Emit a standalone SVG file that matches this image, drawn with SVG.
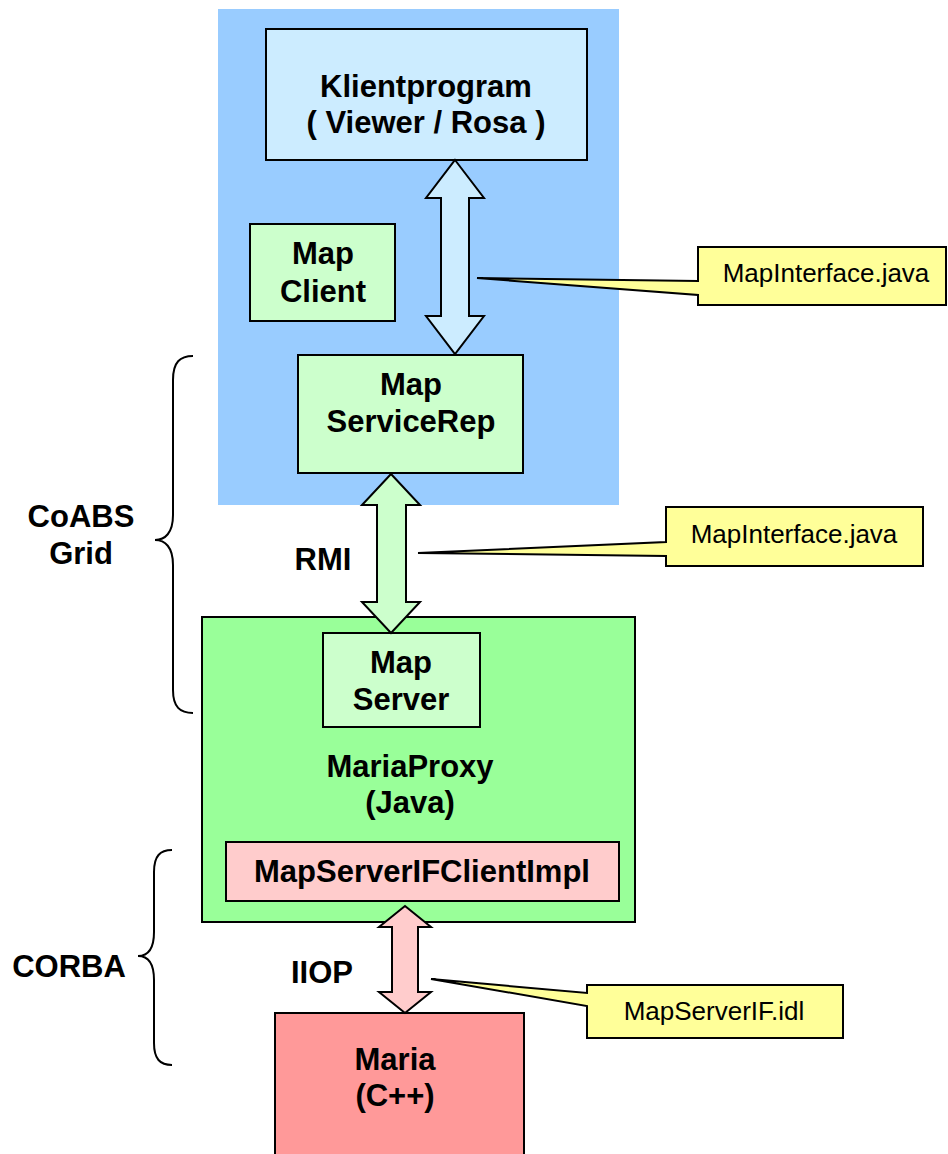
<svg xmlns="http://www.w3.org/2000/svg" width="948" height="1154" viewBox="0 0 948 1154">
  <style>
    .box { stroke: #000; stroke-width: 2; }
    .lbl { font-family: "Liberation Sans", Arial, sans-serif; font-weight: bold; font-size: 31px; fill: #000; text-anchor: middle; }
    .note { font-family: "Liberation Sans", Arial, sans-serif; font-size: 26px; fill: #000; text-anchor: middle; }
    .brace { fill: none; stroke: #000; stroke-width: 2; }
    .callout { fill: #FFFF99; stroke: #000; stroke-width: 2; stroke-linejoin: miter; }
    .arrow { stroke: #000; stroke-width: 2; stroke-linejoin: miter; }
  </style>
  <rect width="948" height="1154" fill="#FFFFFF"/>

  <!-- client-side region -->
  <g id="client-area">
    <rect x="218" y="9" width="401" height="496" fill="#99CCFF"/>
  </g>

  <g id="klientprogram">
    <rect class="box" x="266" y="29" width="321" height="131" fill="#CCECFF"/>
    <text class="lbl" x="426" y="97">Klientprogram</text>
    <text class="lbl" x="426" y="133">( Viewer / Rosa )</text>
  </g>

  <g id="map-client">
    <rect class="box" x="250" y="224" width="145" height="97" fill="#CCFFCC"/>
    <text class="lbl" x="323" y="264">Map</text>
    <text class="lbl" x="323" y="302">Client</text>
  </g>

  <g id="map-servicerep">
    <rect class="box" x="298" y="355" width="225" height="118" fill="#CCFFCC"/>
    <text class="lbl" x="411" y="395">Map</text>
    <text class="lbl" x="411" y="432">ServiceRep</text>
  </g>

  <g id="maria-proxy">
    <rect class="box" x="202" y="617" width="433" height="305" fill="#99FF99"/>
    <text class="lbl" x="410" y="777">MariaProxy</text>
    <text class="lbl" x="410" y="813">(Java)</text>
  </g>

  <g id="map-server">
    <rect class="box" x="323" y="633" width="157" height="94" fill="#CCFFCC"/>
    <text class="lbl" x="401" y="673">Map</text>
    <text class="lbl" x="401" y="710">Server</text>
  </g>

  <g id="client-impl">
    <rect class="box" x="226" y="842" width="393" height="59" fill="#FFCCCC"/>
    <text class="lbl" x="422" y="882">MapServerIFClientImpl</text>
  </g>

  <g id="maria">
    <rect class="box" x="275" y="1013" width="249" height="150" fill="#FF9999"/>
    <text class="lbl" x="395" y="1070">Maria</text>
    <text class="lbl" x="395" y="1106">(C++)</text>
  </g>

  <!-- double-headed block arrows between layers -->
  <g id="connectors">
    <path class="arrow" fill="#CCECFF" d="M455,160 L484,198 H469 V316 H484 L455,354 L426,316 H441 V198 H426 Z"/>
    <path class="arrow" fill="#CCFFCC" d="M391,474 L420,505 H406 V602 H420 L391,633 L362,602 H377 V505 H362 Z"/>
    <path class="arrow" fill="#FFCCCC" d="M405,906 L431,927 H418 V992 H431 L405,1013 L379,992 H392 V927 H379 Z"/>
  </g>

  <g id="protocol-labels">
    <text class="lbl" x="323" y="570">RMI</text>
    <text class="lbl" x="322" y="983">IIOP</text>
  </g>

  <!-- interface callouts -->
  <g id="note-mapinterface-1">
    <path class="callout" d="M698,247 H946 V305 H698 V295 L477,278 L698,281 Z"/>
    <text class="note" x="826" y="282">MapInterface.java</text>
  </g>
  <g id="note-mapinterface-2">
    <path class="callout" d="M666,507 H923 V566 H666 V556 L418,553 L666,542 Z"/>
    <text class="note" x="794" y="543">MapInterface.java</text>
  </g>
  <g id="note-idl">
    <path class="callout" d="M587,985 H843 V1038 H587 V1006 L431,979 L587,993 Z"/>
    <text class="note" x="714" y="1020">MapServerIF.idl</text>
  </g>

  <!-- layer braces -->
  <g id="brace-coabs">
    <path class="brace" d="M193,356 C180,356 173,362 173,380 V515 C173,533 165,540 155,540 C165,540 173,547 173,565 V690 C173,707 180,713 193,713"/>
    <text class="lbl" x="81" y="527">CoABS</text>
    <text class="lbl" x="81" y="564">Grid</text>
  </g>
  <g id="brace-corba">
    <path class="brace" d="M172,850 C160,850 154,856 154,872 V932 C154,950 147,956 138,956 C147,956 154,962 154,980 V1043 C154,1059 160,1065 172,1065"/>
    <text class="lbl" x="69" y="977">CORBA</text>
  </g>
</svg>
